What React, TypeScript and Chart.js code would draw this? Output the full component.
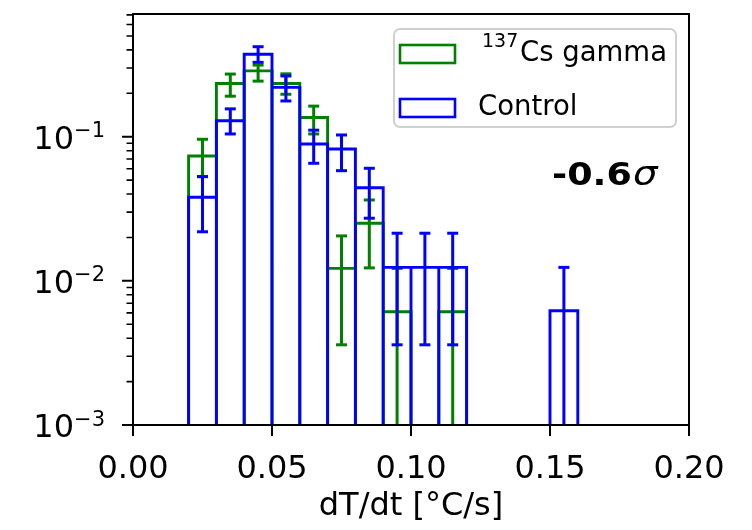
import React, { useEffect, useRef } from 'react';
import { Chart, registerables } from 'chart.js';

Chart.register(...registerables);

// ---------- data ----------
const BIN_EDGES = [0.02, 0.03, 0.04, 0.05, 0.06, 0.07, 0.08, 0.09, 0.1, 0.11, 0.12, 0.13, 0.14, 0.15, 0.16];

const GAMMA_LABEL_SUP = '137';
const GAMMA_LABEL = 'Cs gamma';
const GAMMA_VALUES = [0.0734, 0.234, 0.286, 0.234, 0.136, 0.0122, 0.0251, 0.0061, 0, 0.0061, 0, 0, 0, 0];
const GAMMA_ERR_LOW = [0.053, 0.191, 0.243, 0.197, 0.1045, 0.0036, 0.0123, 0, 0, 0, 0, 0, 0, 0];
const GAMMA_ERR_HIGH = [0.096, 0.272, 0.314, 0.273, 0.163, 0.0205, 0.0364, 0.0122, 0, 0.0122, 0, 0, 0, 0];

const CONTROL_LABEL = 'Control';
const CONTROL_VALUES = [0.038, 0.129, 0.373, 0.22, 0.089, 0.0822, 0.0443, 0.0124, 0.0124, 0.0124, 0, 0, 0, 0.0062];
const CONTROL_ERR_LOW = [0.0219, 0.1045, 0.328, 0.177, 0.0654, 0.0581, 0.0272, 0.0036, 0.0036, 0.0036, 0, 0, 0, 0];
const CONTROL_ERR_HIGH = [0.0528, 0.156, 0.421, 0.264, 0.111, 0.1028, 0.0604, 0.0214, 0.0214, 0.0214, 0, 0, 0, 0.0124];

const X_MIN = 0;
const X_MAX = 0.2;
const X_TICKS = [0, 0.05, 0.1, 0.15, 0.2];
const X_TICK_LABELS = ['0.00', '0.05', '0.10', '0.15', '0.20'];
const X_TITLE = 'dT/dt [°C/s]';

const Y_MIN = 0.001;
const Y_MAX = 0.71;
const Y_TICKS = [0.001, 0.01, 0.1];
const Y_TICK_BASE = '10';
const Y_TICK_EXPONENTS = ['−3', '−2', '−1'];
const Y_MINOR_MULTIPLIERS = [2, 3, 4, 5, 6, 7, 8, 9];

const ANNOTATION_MAIN = '-0.6';
const ANNOTATION_SIGMA = 'σ';

// ---------- style ----------
const FONT = "'DejaVu Sans', sans-serif";
const GREEN = '#008000';
const BLUE = '#0000ff';
const LINE_W = 2.9;

type Pt = { x: number; y: number | null; cap?: boolean };

function histOutline(values: number[]): Pt[] {
  const pts: Pt[] = [];
  values.forEach((v, i) => {
    if (!(v > 0)) return;
    const lo = BIN_EDGES[i];
    const hi = BIN_EDGES[i + 1];
    pts.push({ x: lo, y: Y_MIN }, { x: lo, y: v }, { x: hi, y: v }, { x: hi, y: Y_MIN }, { x: hi, y: null });
  });
  return pts;
}

function errorBars(values: number[], lows: number[], highs: number[]): Pt[] {
  const pts: Pt[] = [];
  values.forEach((v, i) => {
    if (!(v > 0)) return;
    const c = (BIN_EDGES[i] + BIN_EDGES[i + 1]) / 2;
    const lowCap = lows[i] > 0;
    pts.push(
      { x: c, y: lowCap ? lows[i] : Y_MIN, cap: lowCap },
      { x: c, y: highs[i], cap: true },
      { x: c, y: null, cap: false }
    );
  });
  return pts;
}

const decorPlugin = {
  id: 'decor',
  afterDraw(chart: any) {
    const { ctx, chartArea: ca, scales } = chart;
    const xs = scales.x;
    const ys = scales.y;
    ctx.save();
    ctx.strokeStyle = '#000';
    ctx.lineWidth = 2;
    ctx.lineCap = 'butt';
    // frame
    ctx.strokeRect(ca.left, ca.top, ca.right - ca.left, ca.bottom - ca.top);
    // x ticks
    ctx.beginPath();
    X_TICKS.forEach((v) => {
      const px = xs.getPixelForValue(v);
      ctx.moveTo(px, ca.bottom);
      ctx.lineTo(px, ca.bottom + 11);
    });
    // y major ticks
    Y_TICKS.forEach((v) => {
      const py = ys.getPixelForValue(v);
      ctx.moveTo(ca.left, py);
      ctx.lineTo(ca.left - 11, py);
    });
    ctx.stroke();
    // y minor ticks
    ctx.beginPath();
    ctx.lineWidth = 1.6;
    Y_TICKS.forEach((d) => {
      Y_MINOR_MULTIPLIERS.forEach((m) => {
        const v = d * m;
        if (v > Y_MAX) return;
        const py = ys.getPixelForValue(v);
        ctx.moveTo(ca.left, py);
        ctx.lineTo(ca.left - 6.5, py);
      });
    });
    ctx.stroke();

    // y tick labels (mathtext-like 10^{-n})
    ctx.fillStyle = '#000';
    ctx.textBaseline = 'alphabetic';
    ctx.textAlign = 'left';
    Y_TICKS.forEach((v, i) => {
      const py = ys.getPixelForValue(v);
      ctx.font = `32px ${FONT}`;
      const wb = ctx.measureText(Y_TICK_BASE).width;
      ctx.font = `21px ${FONT}`;
      const we = ctx.measureText(Y_TICK_EXPONENTS[i]).width;
      const right = ca.left - 28;
      const left = right - we - wb;
      ctx.font = `32px ${FONT}`;
      ctx.fillText(Y_TICK_BASE, left, py + 12);
      ctx.font = `21px ${FONT}`;
      ctx.fillText(Y_TICK_EXPONENTS[i], left + wb, py + 0.5);
    });

    // legend
    const bx = ca.right - 295;
    const by = ca.top + 15;
    const bw = 282;
    const bh = 98;
    ctx.beginPath();
    if ((ctx as any).roundRect) (ctx as any).roundRect(bx, by, bw, bh, 6);
    else ctx.rect(bx, by, bw, bh);
    ctx.fillStyle = 'rgba(255,255,255,0.8)';
    ctx.fill();
    ctx.strokeStyle = '#d0d0d0';
    ctx.lineWidth = 2;
    ctx.stroke();

    ctx.lineWidth = 2.6;
    ctx.strokeStyle = GREEN;
    ctx.strokeRect(bx + 6, by + 16, 55, 18);
    ctx.strokeStyle = BLUE;
    ctx.strokeRect(bx + 6, by + 70, 55, 18);

    ctx.fillStyle = '#000';
    ctx.font = `19px ${FONT}`;
    ctx.fillText(GAMMA_LABEL_SUP, bx + 88, by + 18);
    ctx.font = `27.5px ${FONT}`;
    ctx.fillText(GAMMA_LABEL, bx + 126, by + 32);
    ctx.fillText(CONTROL_LABEL, bx + 84, by + 86);

    // annotation
    const ax = ca.right - 137;
    const ay = ca.top + 171;
    ctx.save();
    ctx.translate(ax, ay);
    ctx.scale(1.14, 1);
    ctx.font = `bold 32px ${FONT}`;
    ctx.fillText(ANNOTATION_MAIN, 0, 0);
    const w = ctx.measureText(ANNOTATION_MAIN).width;
    ctx.font = `oblique 34px ${FONT}`;
    ctx.fillText(ANNOTATION_SIGMA, w + 1, 0);
    ctx.restore();
    ctx.restore();
  },
};

export default function App() {
  const ref = useRef<HTMLCanvasElement | null>(null);

  useEffect(() => {
    if (!ref.current) return;
    const chart = new Chart(ref.current, {
      type: 'line',
      data: {
        datasets: [
          {
            label: GAMMA_LABEL,
            data: histOutline(GAMMA_VALUES) as any,
            borderColor: GREEN,
            borderWidth: LINE_W,
            borderJoinStyle: 'miter',
            pointRadius: 0,
            fill: false,
            spanGaps: false,
            order: 4,
          },
          {
            label: GAMMA_LABEL + ' err',
            data: errorBars(GAMMA_VALUES, GAMMA_ERR_LOW, GAMMA_ERR_HIGH) as any,
            borderColor: GREEN,
            borderWidth: 3,
            pointStyle: 'line',
            pointRadius: (c: any) => (c.raw && c.raw.cap ? 5.5 : 0),
            pointBorderColor: GREEN,
            pointBorderWidth: 3,
            fill: false,
            spanGaps: false,
            order: 3,
          },
          {
            label: CONTROL_LABEL,
            data: histOutline(CONTROL_VALUES) as any,
            borderColor: BLUE,
            borderWidth: LINE_W,
            borderJoinStyle: 'miter',
            pointRadius: 0,
            fill: false,
            spanGaps: false,
            order: 2,
          },
          {
            label: CONTROL_LABEL + ' err',
            data: errorBars(CONTROL_VALUES, CONTROL_ERR_LOW, CONTROL_ERR_HIGH) as any,
            borderColor: BLUE,
            borderWidth: 3,
            pointStyle: 'line',
            pointRadius: (c: any) => (c.raw && c.raw.cap ? 5.5 : 0),
            pointBorderColor: BLUE,
            pointBorderWidth: 3,
            fill: false,
            spanGaps: false,
            order: 1,
          },
        ],
      },
      options: {
        responsive: false,
        animation: false,
        devicePixelRatio: 1,
        layout: { padding: { top: 14, right: 63, left: 0, bottom: 0 } },
        plugins: { legend: { display: false }, tooltip: { enabled: false } },
        elements: { line: { tension: 0 } },
        scales: {
          x: {
            type: 'linear',
            min: X_MIN,
            max: X_MAX,
            bounds: 'data',
            grid: { display: false },
            border: { display: false },
            afterBuildTicks: (s: any) => {
              s.ticks = X_TICKS.map((v) => ({ value: v }));
            },
            afterFit: (s: any) => {
              s.height = 105;
              s.paddingLeft = 0;
              s.paddingRight = 0;
              s.paddingTop = 0;
              s.paddingBottom = 0;
            },
            ticks: {
              autoSkip: false,
              maxRotation: 0,
              padding: 17,
              color: '#000',
              font: { family: FONT, size: 32 },
              callback: (_v: any, i: number) => X_TICK_LABELS[i],
            },
            title: {
              display: true,
              text: X_TITLE,
              color: '#000',
              font: { family: FONT, size: 32 },
              padding: { top: 0, bottom: 4 },
            },
          },
          y: {
            type: 'logarithmic',
            min: Y_MIN,
            max: Y_MAX,
            bounds: 'data',
            grid: { display: false },
            border: { display: false },
            afterBuildTicks: (s: any) => {
              s.ticks = Y_TICKS.map((v) => ({ value: v, major: true }));
            },
            afterFit: (s: any) => {
              s.width = 133;
              s.paddingLeft = 0;
              s.paddingRight = 0;
              s.paddingTop = 0;
              s.paddingBottom = 0;
            },
            ticks: { display: false },
          },
        },
      } as any,
      plugins: [decorPlugin],
    });
    return () => chart.destroy();
  }, []);

  return (
    <div style={{ position: 'absolute', left: 0, top: 0, width: 752, height: 530, background: '#fff' }}>
      <canvas ref={ref} width={752} height={530} style={{ width: 752, height: 530, display: 'block' }} />
    </div>
  );
}
